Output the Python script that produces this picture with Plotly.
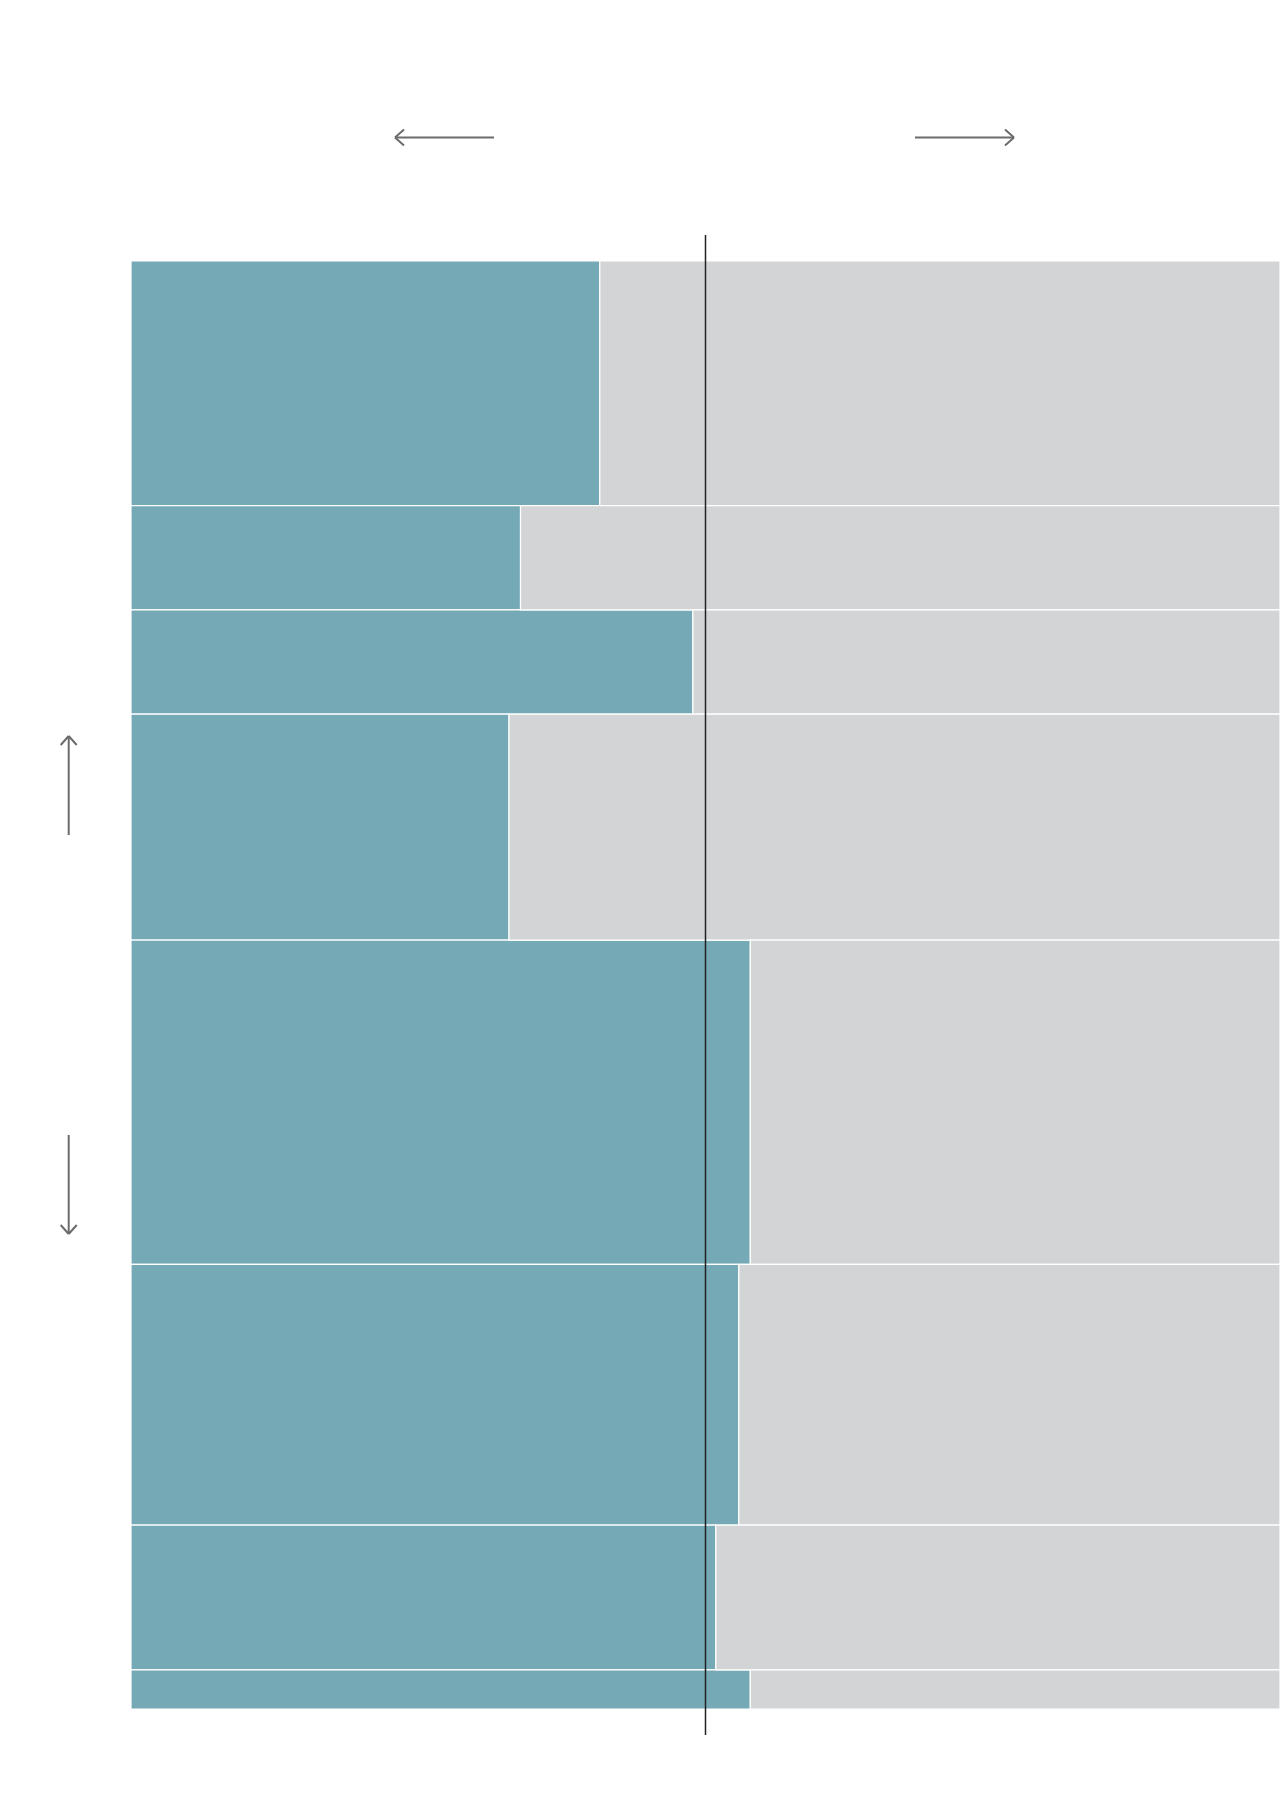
import numpy as np
import plotly.graph_objects as go

# Row heights (share of total, %) from top to bottom
row_share = [16.9, 7.2, 7.2, 15.6, 22.4, 18.0, 10.0, 2.7]
# Teal share within each row (%)
teal_share = [40.8, 33.9, 48.9, 32.9, 53.9, 52.9, 50.9, 53.9]
reference_value = 50

TEAL = "#74A9B5"
GREY = "#D3D4D6"
ARROW = "#6b6b6b"

W, H = 1280, 1794
L, R, T = 131, 0, 261
B = H - 1709

heights = np.array(row_share, dtype=float)
heights = heights / heights.sum() * 100
tops = np.concatenate([[0], np.cumsum(heights)[:-1]])
mids = tops + heights / 2
teal = np.array(teal_share)

fig = go.Figure()
fig.add_trace(go.Bar(
    orientation="h", y=mids, x=teal, base=0, width=heights,
    marker=dict(color=TEAL, line=dict(color="white", width=1.2)),
    hoverinfo="skip", showlegend=False))
fig.add_trace(go.Bar(
    orientation="h", y=mids, x=100 - teal, base=teal, width=heights,
    marker=dict(color=GREY, line=dict(color="white", width=1.2)),
    hoverinfo="skip", showlegend=False))

pw, ph = W - L - R, H - T - B
def px(x):
    return (x - L) / pw
def py(y):
    return (H - B - y) / ph

shapes = []
# 50% reference line extending beyond plot area
shapes.append(dict(type="line", xref="x", yref="paper", x0=reference_value, x1=reference_value,
                   y0=py(1735), y1=py(235), line=dict(color="#222222", width=1.5)))

def seg(x0, y0, x1, y1):
    shapes.append(dict(type="line", xref="paper", yref="paper",
                       x0=px(x0), y0=py(y0), x1=px(x1), y1=py(y1),
                       line=dict(color=ARROW, width=2)))

# left arrow
seg(395, 137.5, 494, 137.5)
seg(395, 137.5, 404, 129.5)
seg(395, 137.5, 404, 145.5)
# right arrow
seg(915, 137.5, 1014, 137.5)
seg(1014, 137.5, 1005, 129.5)
seg(1014, 137.5, 1005, 145.5)
# up arrow
seg(68.7, 736, 68.7, 835)
seg(68.7, 736, 60.7, 745)
seg(68.7, 736, 76.7, 745)
# down arrow
seg(68.7, 1135, 68.7, 1234)
seg(68.7, 1234, 60.7, 1225)
seg(68.7, 1234, 76.7, 1225)

fig.update_layout(
    width=W, height=H,
    margin=dict(l=L, r=R, t=T, b=B, pad=0),
    paper_bgcolor="white", plot_bgcolor="white",
    barmode="overlay",
    xaxis=dict(range=[0, 100], visible=False, fixedrange=True),
    yaxis=dict(range=[100, 0], visible=False, fixedrange=True),
    shapes=shapes,
)

fig.write_html(
    "out.html",
    config={"displayModeBar": False},
    post_script="document.body.style.margin='0';document.body.style.overflow='hidden';",
)
